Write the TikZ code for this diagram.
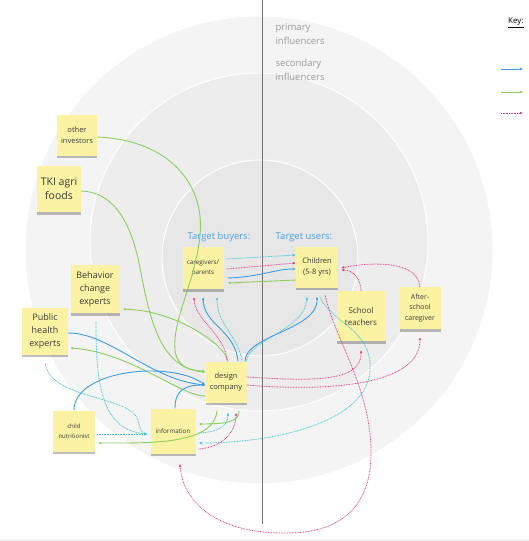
\documentclass[tikz,border=0pt]{standalone}
\usepackage{fontspec}
\setmainfont{Open Sans}
\usetikzlibrary{arrows.meta,shadows}
\definecolor{notey}{HTML}{FBF3A3}
\definecolor{notetext}{HTML}{3A3A3A}
\definecolor{ringA}{HTML}{F4F4F4}
\definecolor{ringB}{HTML}{EDEDED}
\definecolor{ringC}{HTML}{E7E7E7}
\definecolor{ringtext}{HTML}{9C9C9C}
\definecolor{tgt}{HTML}{4CA3EA}
\definecolor{blu}{HTML}{3D9CE3}
\definecolor{grn}{HTML}{8CCF5C}
\definecolor{cyn}{HTML}{3DC6DA}
\definecolor{pnk}{HTML}{DE3F8A}

\begin{document}
\begin{tikzpicture}[x=1pt,y=-1pt,
    note/.style={fill=notey,text=notetext,align=center,inner sep=1pt,
      drop shadow={shadow xshift=0pt,shadow yshift=-2.5pt,opacity=.25,fill=black}},
    blueflow/.style={draw=blu,line width=.9pt,-{Latex[length=3pt,width=2.8pt]}},
    greenflow/.style={draw=grn,line width=.9pt,-{Latex[length=3pt,width=2.8pt]}},
    cyanflow/.style={draw=cyn,line width=.8pt,dash pattern=on .8pt off .8pt,-{Latex[length=3pt,width=2.8pt]}},
    pinkflow/.style={draw=pnk,line width=.8pt,dash pattern=on .8pt off .8pt,-{Latex[length=3pt,width=2.8pt]}}]
  \useasboundingbox (0,0) rectangle (529,541);
  \fill[ringA,draw=white,line width=1pt] (259,250) circle[radius=234pt];
  \fill[ringB,draw=white,line width=1pt] (259,242) circle[radius=169pt];
  \fill[ringC,draw=white,line width=1pt] (260,258) circle[radius=98pt];
  \draw[black!6,line width=2pt] (0,540) -- (529,540);
  \draw[black!55,line width=.8pt] (262,0) -- (262,524);

  \node[anchor=north west,align=left,text=ringtext,font=\fontsize{9.5}{14}\selectfont] (prim) at (272,20) {primary\\influencers};
  \node[anchor=north west,align=left,text=ringtext,font=\fontsize{9.5}{14}\selectfont] (sec) at (272,56) {secondary\\influencers};
  \node[font=\fontsize{9.5}{11}\selectfont,text=tgt] (buyers) at (219,237) {Target buyers:};
  \node[font=\fontsize{9.5}{11}\selectfont,text=tgt] (users) at (304,237) {Target users:};

  \node[anchor=west,inner sep=0pt,font=\fontsize{8}{9}\selectfont] (key) at (508,23) {\underline{Key:}};
  \foreach \st/\yy [count=\i] in {blueflow/69,greenflow/92,pinkflow/113} {
    \coordinate (k\i a) at (501,\yy);
    \coordinate (k\i b) at (523,\yy);
    \draw[\st] (k\i a) -- (k\i b);
  }

  \node[note,minimum width=40pt,minimum height=41pt,font=\fontsize{7.5}{11}\selectfont] (inv) at (77,135) {other\\investors};
  \node[note,minimum width=44pt,minimum height=46pt,font=\fontsize{10.5}{14}\selectfont] (tki) at (59,189) {TKI agri\\foods};
  \node[note,minimum width=49pt,minimum height=48pt,font=\fontsize{9}{13}\selectfont] (beh) at (95,289) {Behavior\\change\\experts};
  \node[note,minimum width=46pt,minimum height=47pt,font=\fontsize{9}{13}\selectfont] (pub) at (45,331) {Public\\health\\experts};
  \node[note,minimum width=41pt,minimum height=42pt,font=\fontsize{6.3}{10}\selectfont] (care) at (203,268) {caregivers/\\parents};
  \node[note,minimum width=42pt,minimum height=41pt,font=\fontsize{7.5}{11}\selectfont] (kids) at (317,267) {Children\\(5-8 yrs)};
  \node[note,minimum width=49pt,minimum height=50pt,font=\fontsize{8}{12}\selectfont] (sch) at (361,316) {School\\teachers};
  \node[note,minimum width=41pt,minimum height=42pt,font=\fontsize{7}{10.5}\selectfont] (aft) at (420,308) {After-\\school\\caregiver};
  \node[note,minimum width=41pt,minimum height=41pt,font=\fontsize{7.5}{11}\selectfont] (dc) at (226,382) {design\\company};
  \node[note,minimum width=42pt,minimum height=41pt,font=\fontsize{6}{10}\selectfont] (nut) at (74,431) {child\\nutritionist};
  \node[note,minimum width=45pt,minimum height=45pt,font=\fontsize{6.3}{8}\selectfont] (info) at (173,431) {information};

  \draw[greenflow] ([yshift=-2pt]inv.east) .. controls (170,140) and (205,185) .. (200,235) .. controls (196,280) and (172,320) .. (175,350) .. controls (177,368) and (192,371) .. ([yshift=11pt]dc.west);
  \draw[greenflow] ([yshift=-2pt]tki.east) .. controls (115,192) and (132,225) .. (140,268) .. controls (150,320) and (160,368) .. ([yshift=10pt]dc.west);
  \draw[greenflow] ([xshift=2pt]dc.north) .. controls (226,345) and (175,310) .. ([xshift=3pt,yshift=4pt]beh.south east);
  \draw[greenflow] ([yshift=-14pt]dc.west) .. controls (180,396) and (130,352) .. ([xshift=2pt,yshift=-17pt]pub.east);
  \draw[blueflow] ([yshift=-2pt]pub.east) .. controls (110,333) and (150,380) .. ([yshift=-3pt]dc.west);
  \draw[blueflow] (nut.north) .. controls (74,370) and (170,360) .. ([yshift=-3pt]dc.west);
  \draw[blueflow] ([xshift=2pt]info.north) .. controls (175,390) and (185,385) .. ([yshift=-3pt]dc.west);

  \draw[blueflow] ([xshift=12pt]dc.north) .. controls (235,330) and (204,325) .. ([yshift=-8pt]care.south);
  \draw[cyanflow] ([xshift=16pt]dc.north) .. controls (238,335) and (217,325) .. ([xshift=14pt,yshift=-8pt]care.south);
  \draw[pinkflow] ([xshift=1pt]dc.north) .. controls (226,335) and (195,320) .. ([xshift=-9pt,yshift=-8pt]care.south);
  \draw[blueflow] ([xshift=19pt]dc.north) .. controls (245,335) and (318,330) .. ([yshift=-9pt]kids.south);
  \draw[cyanflow] ([xshift=20.5pt]dc.north) .. controls (248,340) and (305,330) .. ([xshift=-10pt,yshift=-9pt]kids.south);

  \draw[cyanflow] ([xshift=3pt,yshift=9pt]care.east) -- ([yshift=12pt]kids.west);
  \draw[pinkflow] ([xshift=3pt,yshift=-1pt]care.east) -- ([yshift=4pt]kids.west);
  \draw[blueflow] ([xshift=4pt,yshift=-10pt]care.east) .. controls (260,277) and (275,269) .. ([yshift=-2pt]kids.west);
  \draw[greenflow] ([yshift=-13pt]kids.west) -- ([xshift=4pt,yshift=-15pt]care.east);

  \draw[pinkflow] (sch.north) .. controls (361,278) and (352,270) .. ([xshift=3pt,yshift=-3pt]kids.east);
  \draw[pinkflow] (aft.north) .. controls (418,260) and (370,262) .. ([xshift=3pt,yshift=-1pt]kids.east);
  \draw[pinkflow] ([yshift=5pt]dc.east) .. controls (300,380) and (362,385) .. ([yshift=-9pt]sch.south);
  \draw[pinkflow] ([yshift=-3pt]dc.east) .. controls (330,392) and (420,385) .. ([yshift=-8pt]aft.south);

  \draw[cyanflow] ([xshift=3pt,yshift=-10pt]kids.south) .. controls (335,325) and (372,330) .. (370,370) .. controls (368,420) and (280,443) .. ([xshift=3pt,yshift=-12pt]info.east);
  \draw[pinkflow] ([xshift=8pt,yshift=-7pt]kids.south) .. controls (335,340) and (372,390) .. (371,455) .. controls (370,535) and (300,533) .. (283,533) .. controls (215,533) and (182,500) .. ([xshift=7pt,yshift=-10pt]info.south);

  \draw[greenflow] ([xshift=13pt,yshift=-8pt]dc.south) .. controls (240,422) and (225,424) .. ([xshift=3pt,yshift=7pt]info.east);
  \draw[cyanflow] ([xshift=3pt,yshift=-2pt]info.east) .. controls (220,432) and (228,425) .. ([xshift=2pt,yshift=-10pt]dc.south);
  \draw[pinkflow] ([xshift=3pt,yshift=-18pt]info.east) .. controls (225,447) and (236,430) .. ([xshift=10pt,yshift=-10pt]dc.south);
  \draw[greenflow] ([xshift=-9pt,yshift=-8pt]dc.south) .. controls (214,445) and (150,443) .. ([xshift=3pt,yshift=-12pt]nut.east);
  \draw[cyanflow] ([xshift=2pt,yshift=-3pt]nut.east) -- ([xshift=-3pt,yshift=-3pt]info.west);
  \draw[cyanflow] ([yshift=-8pt]pub.south) .. controls (50,400) and (130,395) .. (138,420) .. controls (140,430) and (143,434) .. ([xshift=-3pt,yshift=-3pt]info.west);
  \draw[cyanflow] ([xshift=1pt,yshift=-9pt]beh.south) .. controls (96,380) and (100,430) .. ([xshift=-3pt,yshift=-3pt]info.west);
\end{tikzpicture}
\end{document}
